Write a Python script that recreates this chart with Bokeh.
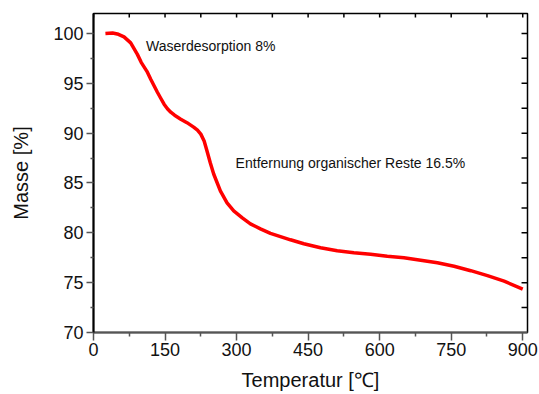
from bokeh.plotting import figure
from bokeh.models import FixedTicker, Label, Range1d
from bokeh.embed import file_html
from bokeh.resources import INLINE

# Data (TGA curve)
temperature = [25, 40, 50, 64, 78, 92, 100, 112, 120, 127, 134, 141, 148, 155, 162, 170, 183,
               196, 210, 218, 225, 232, 238, 245, 252, 266, 280, 294, 312, 329, 350, 371, 413,
               441, 476, 511, 546, 581, 616, 651, 686, 721, 756, 791, 826, 861, 900]
mass = [100.0, 100.05, 99.95, 99.65, 99.05, 97.9, 97.1, 96.2, 95.4, 94.75, 94.1, 93.5, 92.9,
        92.45, 92.1, 91.8, 91.4, 91.05, 90.6, 90.3, 89.9, 89.2, 88.2, 87.0, 85.9, 84.2, 83.0,
        82.2, 81.5, 80.9, 80.4, 79.95, 79.3, 78.9, 78.5, 78.2, 78.0, 77.85, 77.65, 77.5, 77.25,
        77.0, 76.65, 76.2, 75.7, 75.15, 74.35]

x_ticks = [0, 150, 300, 450, 600, 750, 900]
x_minor = [75, 225, 375, 525, 675, 825]
y_ticks = [70, 75, 80, 85, 90, 95, 100]
y_minor = [72.5, 77.5, 82.5, 87.5, 92.5, 97.5]
x_top_ticks = [0, 75, 150, 225, 300, 375, 450, 525, 600, 675, 750, 825, 900]
y_right_ticks = [72.5, 75, 77.5, 80, 82.5, 85, 87.5, 90, 92.5, 95, 97.5, 100]

annotations = ["Waserdesorption 8%", "Entfernung organischer Reste 16.5%"]

FONT = "Liberation Sans"
X_MAX, Y_MAX = 910, 102

p = figure(width=539, height=394, output_backend="svg", toolbar_location=None,
           x_range=Range1d(0, X_MAX), y_range=Range1d(70, Y_MAX),
           min_border_left=93, min_border_right=12, min_border_top=13, min_border_bottom=62,
           background_fill_color="white", border_fill_color="white")
p.xgrid.visible = False
p.ygrid.visible = False
p.outline_line_color = "black"
p.outline_line_width = 1.5

p.line(temperature, mass, line_color="#ff0000", line_width=3.5)

# inward ticks on the top and right frame edges
top_len = 0.4     # in y units (~4 px)
right_len = 12.5  # in x units (~6 px)
p.segment(x0=x_top_ticks, y0=[Y_MAX] * len(x_top_ticks),
          x1=x_top_ticks, y1=[Y_MAX - top_len] * len(x_top_ticks),
          line_color="black", line_width=1.5)
p.segment(x0=[X_MAX] * len(y_right_ticks), y0=y_right_ticks,
          x1=[X_MAX - right_len] * len(y_right_ticks), y1=y_right_ticks,
          line_color="black", line_width=1.5)

# bottom axis
xa = p.xaxis[0]
xa.ticker = FixedTicker(ticks=x_ticks, minor_ticks=x_minor)
xa.axis_label = "Temperatur [℃]"
xa.axis_label_text_font = FONT
xa.axis_label_text_font_style = "normal"
xa.axis_label_text_font_size = "20px"
xa.axis_label_text_color = "#111111"
xa.axis_label_standoff = 10
xa.major_label_text_font = FONT
xa.major_label_text_font_size = "18px"
xa.major_label_text_color = "#111111"
xa.major_label_standoff = 2
xa.axis_line_color = "#555555"
xa.axis_line_width = 2
xa.major_tick_line_color = "#555555"
xa.minor_tick_line_color = "#555555"
xa.major_tick_line_width = 1.5
xa.minor_tick_line_width = 1.5
xa.major_tick_in = 0
xa.major_tick_out = 8
xa.minor_tick_in = 0
xa.minor_tick_out = 4

# left axis
ya = p.yaxis[0]
ya.ticker = FixedTicker(ticks=y_ticks, minor_ticks=y_minor)
ya.axis_label = "Masse [%]"
ya.axis_label_text_font = FONT
ya.axis_label_text_font_style = "normal"
ya.axis_label_text_font_size = "20px"
ya.axis_label_text_color = "#111111"
ya.axis_label_standoff = 18
ya.major_label_text_font = FONT
ya.major_label_text_font_size = "18px"
ya.major_label_text_color = "#111111"
ya.major_label_standoff = 3
ya.axis_line_color = "black"
ya.axis_line_width = 2
ya.major_tick_line_color = "#555555"
ya.minor_tick_line_color = "#555555"
ya.major_tick_line_width = 1.5
ya.minor_tick_line_width = 1.5
ya.major_tick_in = 0
ya.major_tick_out = 7
ya.minor_tick_in = 0
ya.minor_tick_out = 3

p.add_layout(Label(x=110, y=98.75, text=annotations[0], text_font=FONT,
                   text_font_size="14px", text_color="#111111", text_baseline="alphabetic"))
p.add_layout(Label(x=298, y=87.0, text=annotations[1], text_font=FONT,
                   text_font_size="14px", text_color="#111111", text_baseline="alphabetic"))

open("out.html", "w").write(file_html(p, INLINE))
